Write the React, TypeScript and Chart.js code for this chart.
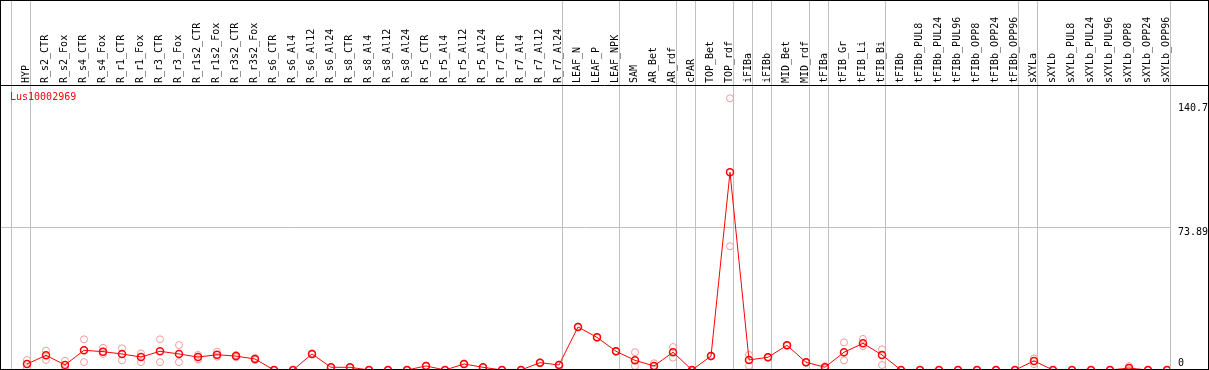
import React, { useEffect, useRef } from "react";
import { Chart, registerables } from "chart.js";

Chart.register(...registerables);

const TITLE = "Lus10002969";

const categories = [
  "HYP", "R_s2_CTR", "R_s2_Fox", "R_s4_CTR", "R_s4_Fox", "R_r1_CTR", "R_r1_Fox", "R_r3_CTR", "R_r3_Fox",
  "R_r1s2_CTR", "R_r1s2_Fox", "R_r3s2_CTR", "R_r3s2_Fox", "R_s6_CTR", "R_s6_Al4", "R_s6_Al12", "R_s6_Al24",
  "R_s8_CTR", "R_s8_Al4", "R_s8_Al12", "R_s8_Al24", "R_r5_CTR", "R_r5_Al4", "R_r5_Al12", "R_r5_Al24",
  "R_r7_CTR", "R_r7_Al4", "R_r7_Al12", "R_r7_Al24", "LEAF_N", "LEAF_P", "LEAF_NPK", "SAM", "AR_Bet", "AR_rdf",
  "cPAR", "TOP_Bet", "TOP_rdf", "iFIBa", "iFIBb", "MID_Bet", "MID_rdf", "tFIBa", "tFIB_Gr", "tFIB_Li", "tFIB_Bi",
  "tFIBb", "tFIBb_PUL8", "tFIBb_PUL24", "tFIBb_PUL96", "tFIBb_OPP8", "tFIBb_OPP24", "tFIBb_OPP96",
  "sXYLa", "sXYLb", "sXYLb_PUL8", "sXYLb_PUL24", "sXYLb_PUL96", "sXYLb_OPP8", "sXYLb_OPP24", "sXYLb_OPP96",
];

const meanValues = [
  3.1, 7.6, 2.6, 10.2, 9.5, 8.3, 6.7, 9.7, 8.3,
  6.7, 7.9, 7.2, 5.7, 0, 0, 8.3, 1.4,
  1.4, 0, 0, 0, 2.1, 0, 3.1, 1.4,
  0, 0, 3.8, 2.6, 22.3, 16.9, 9.7, 5.0, 2.1, 9.2,
  0, 7.2, 102.4, 5.2, 6.6, 12.8, 4.0, 1.4, 9.2, 13.8, 7.8,
  0, 0, 0, 0, 0, 0, 0,
  4.7, 0, 0, 0, 0, 1.0, 0, 0,
];

const replicateA = [
  5.2, 10.0, 4.8, 15.9, 11.5, 11.2, 8.6, 15.9, 12.9,
  7.8, 9.5, 7.8, 6.2, 0, 0, 8.6, 1.4,
  1.4, 0, 0, 0, 2.3, 0, 3.3, 1.4,
  0, 0, 4.0, 2.8, 22.5, 17.1, 9.9, 9.2, 3.5, 11.9,
  0, 7.4, 140.7, 7.8, 6.8, 13.0, 4.2, 2.0, 14.3, 16.1, 10.7,
  0, 0, 0, 0, 0, 0, 0,
  6.0, 0, 0, 0, 0, 2.0, 0, 0,
];

const replicateB = [
  1.0, 5.2, 0.5, 4.1, 8.3, 5.0, 4.1, 4.1, 4.1,
  5.5, 6.9, 6.6, 5.2, 0, 0, 8.0, 1.4,
  1.4, 0, 0, 0, 1.9, 0, 2.9, 1.4,
  0, 0, 3.6, 2.4, 22.1, 16.7, 9.5, 2.1, 0.7, 6.4,
  0, 7.0, 64.1, 2.2, 6.4, 12.6, 3.8, 0.8, 5.0, 12.4, 2.6,
  0, 0, 0, 0, 0, 0, 0,
  3.0, 0, 0, 0, 0, 0, 0, 0,
];

// index of the last category of each group (-1 = start)
const groupEnds = [-1, 0, 28, 31, 34, 35, 37, 38, 39, 41, 42, 45, 52, 53, 60];

const yTickValues = [0, 73.89, 140.7];
const yTickLabels = ["0", "73.89", "140.7"];

// ---- styling / layout constants ----
const FONT = "DejaVu Sans Mono";
const GRID = "#c0c0c0";
const RED = "#ff0000";
const FAINT = "#ee9c9c";
const SEP_SHIFT = 3 / 19;
const X_MIN = -26 / 19;
const X_MAX = 1143 / 19;
const Y_MIN = 1 / 1.931;
const Y_MAX = 284 / 1.931;
const Y_LABEL_SHIFT = [-7, 5.5, 10];

const framePlugin = {
  id: "frame",
  afterDraw(chart: any) {
    const { ctx, width, height, chartArea } = chart;
    ctx.save();
    ctx.strokeStyle = "#000";
    ctx.lineWidth = 1;
    ctx.strokeRect(0.5, 0.5, width - 1, height - 1);
    ctx.beginPath();
    ctx.moveTo(0, chartArea.top - 0.5);
    ctx.lineTo(width, chartArea.top - 0.5);
    ctx.stroke();
    ctx.fillStyle = RED;
    ctx.font = `10px "${FONT}"`;
    ctx.textBaseline = "middle";
    ctx.textAlign = "left";
    ctx.fillText(TITLE, chartArea.left + 9, chartArea.top + 11);
    ctx.restore();
  },
};

export default function App() {
  const ref = useRef<HTMLCanvasElement | null>(null);

  useEffect(() => {
    if (!ref.current) return;
    const toPoints = (arr: number[]) => arr.map((v, i) => ({ x: i, y: v }));
    const chart = new Chart(ref.current, {
      type: "line",
      data: {
        datasets: [
          {
            label: "mean",
            data: toPoints(meanValues),
            borderColor: RED,
            borderWidth: 1,
            pointRadius: 3.5,
            pointBorderWidth: 1.5,
            pointBorderColor: RED,
            pointBackgroundColor: "rgba(0,0,0,0)",
            tension: 0,
            order: 0,
            clip: 0,
          },
          {
            label: "replicate A",
            data: toPoints(replicateA),
            showLine: false,
            pointRadius: 3.5,
            pointBorderWidth: 1,
            pointBorderColor: FAINT,
            pointBackgroundColor: "rgba(0,0,0,0)",
            order: 1,
            clip: 0,
          },
          {
            label: "replicate B",
            data: toPoints(replicateB),
            showLine: false,
            pointRadius: 3.5,
            pointBorderWidth: 1,
            pointBorderColor: FAINT,
            pointBackgroundColor: "rgba(0,0,0,0)",
            order: 2,
            clip: 0,
          },
        ],
      },
      options: {
        animation: false,
        responsive: false,
        devicePixelRatio: 1,
        layout: { autoPadding: false, padding: { top: 1, left: 1, right: 0, bottom: 1 } },
        plugins: { legend: { display: false }, tooltip: { enabled: false }, title: { display: false } },
        scales: {
          x: {
            type: "linear",
            position: "top",
            min: X_MIN,
            max: X_MAX,
            afterBuildTicks: (s: any) => {
              const vals = [
                ...categories.map((_, i) => i),
                ...groupEnds.map((g) => g + SEP_SHIFT),
              ].sort((a, b) => a - b);
              s.ticks = vals.map((v) => ({ value: v }));
            },
            afterFit: (s: any) => {
              s.height = 85;
              s.paddingLeft = 0;
              s.paddingRight = 0;
              s.paddingTop = 0;
              s.paddingBottom = 0;
            },
            ticks: {
              autoSkip: false,
              minRotation: 90,
              maxRotation: 90,
              padding: -82,
              labelOffset: 11,
              color: "#000",
              font: { family: FONT, size: 10 },
              callback: (v: any) => (Number.isInteger(v) ? categories[v] : ""),
            },
            grid: {
              color: (c: any) => (c.tick && !Number.isInteger(c.tick.value) ? GRID : "rgba(0,0,0,0)"),
              lineWidth: 1,
              drawTicks: true,
              tickLength: 85,
            },
            border: { display: false },
          },
          y: {
            type: "linear",
            position: "right",
            min: Y_MIN,
            max: Y_MAX,
            afterBuildTicks: (s: any) => {
              s.ticks = yTickValues.map((v) => ({ value: v }));
            },
            afterFit: (s: any) => {
              s.width = 39;
              s.paddingLeft = 0;
              s.paddingRight = 0;
              s.paddingTop = 0;
              s.paddingBottom = 0;
            },
            ticks: {
              padding: 8,
              color: "#000",
              font: (c: any) => ({
                family: FONT,
                size: 10,
                lineHeight: `${Math.abs(Y_LABEL_SHIFT[c.index] ?? 6) * 2}px`,
              }),
              callback: (_v: any, i: number) =>
                Y_LABEL_SHIFT[i] < 0 ? [yTickLabels[i], ""] : ["", yTickLabels[i]],
            },
            grid: {
              color: (c: any) => (c.tick && c.tick.value === yTickValues[1] ? GRID : "rgba(0,0,0,0)"),
              drawTicks: false,
            },
            border: { display: false },
          },
        },
      },
      plugins: [framePlugin],
    } as any);
    return () => chart.destroy();
  }, []);

  return (
    <div style={{ position: "absolute", left: 0, top: 0, width: 1209, height: 370 }}>
      <canvas ref={ref} width={1209} height={370} style={{ display: "block" }} />
    </div>
  );
}
